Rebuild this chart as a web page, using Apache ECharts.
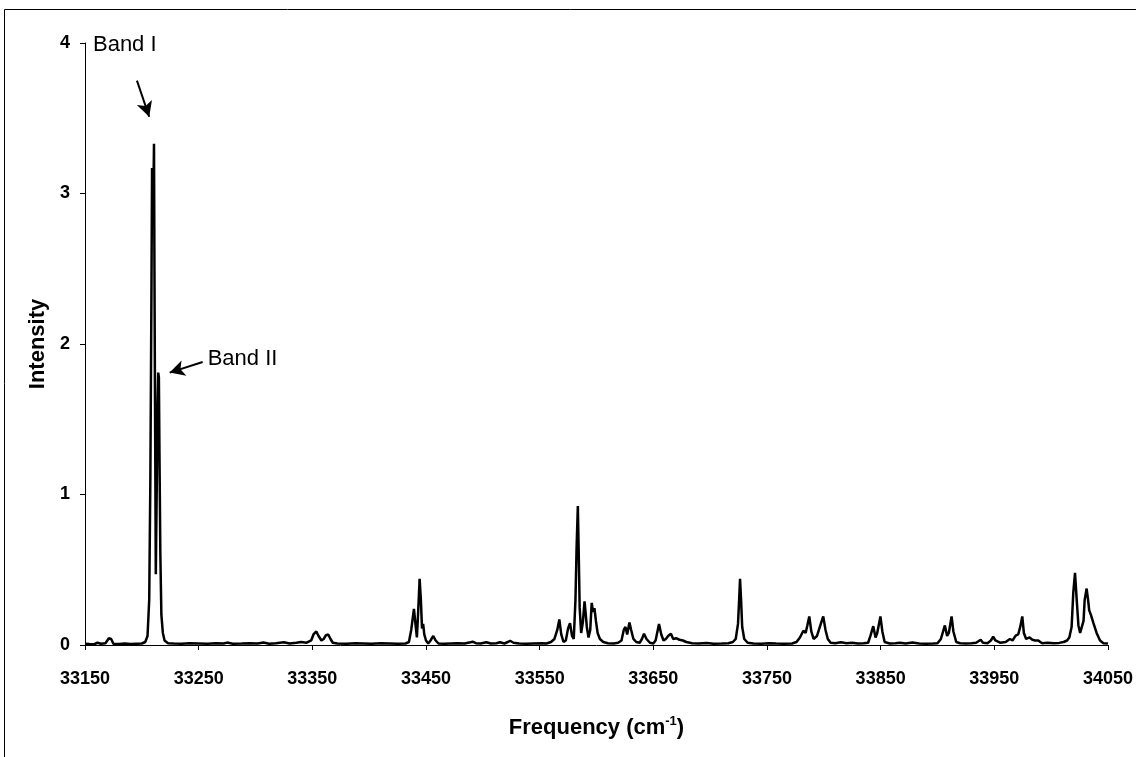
<!DOCTYPE html>
<html>
<head>
<meta charset="utf-8">
<script src="https://cdn.jsdelivr.net/npm/echarts@6/dist/echarts.min.js"></script>
<style>
  html, body { margin: 0; padding: 0; background: #fff; }
  #chart { width: 1136px; height: 757px; }
</style>
</head>
<body>
<div id="chart"></div>
<script>
// spectrum: frequency (cm-1) and intensity
const freq = [
  33150, 33154, 33158, 33161, 33164, 33168, 33171, 33173, 33175, 33180, 33185, 33190, 33195, 33200, 33203,
  33205, 33206.5, 33207.5, 33208.5, 33209, 33209.6, 33210.2, 33210.7, 33211.1, 33211.6, 33212.3, 33213.2,
  33213.8, 33214.4, 33215, 33215.6, 33216.3, 33217.2, 33218.5, 33220, 33223, 33228, 33235, 33242, 33250,
  33258, 33265, 33272, 33275, 33280, 33288, 33295, 33302, 33307, 33312, 33318, 33325, 33330, 33336, 33340,
  33345, 33349, 33351, 33353.5, 33355.5, 33358, 33360, 33362, 33364, 33366, 33368, 33372, 33380, 33388,
  33395, 33402, 33410, 33418, 33425, 33432, 33435, 33437, 33439.4, 33441, 33442, 33443, 33444.4, 33445.5,
  33446.5, 33447.5, 33448.5, 33450, 33452, 33454, 33456.4, 33458.5, 33461, 33466, 33472, 33478, 33484,
  33488, 33491, 33494, 33498, 33503, 33507, 33512, 33515, 33519, 33522, 33524, 33527, 33532, 33538, 33545,
  33552, 33556, 33560, 33563, 33565.5, 33567.3, 33569, 33571, 33573, 33575, 33576.7, 33578.5, 33580,
  33581.5, 33582.5, 33583.6, 33584.4, 33585.2, 33586.5, 33588, 33589.5, 33590.6, 33591.5, 33593, 33594.5,
  33595.8, 33597, 33598.2, 33599.5, 33601, 33603, 33606, 33610, 33615, 33619, 33622, 33624, 33625.5, 33627,
  33629, 33630.5, 33632.5, 33635, 33638, 33640, 33641.8, 33644, 33647, 33650, 33652, 33655, 33657, 33659,
  33661, 33663, 33665.5, 33667.5, 33670, 33673, 33676, 33679, 33684, 33690, 33697, 33703, 33710, 33716,
  33720, 33722.5, 33724.5, 33725.5, 33726.3, 33727.2, 33728.2, 33730, 33733, 33738, 33745, 33752, 33758,
  33765, 33772, 33776, 33779, 33782, 33784, 33785.5, 33787.2, 33789, 33791, 33794, 33796.5, 33799.5,
  33801.5, 33803.5, 33806, 33810, 33815, 33820, 33825, 33830, 33835, 33839, 33841, 33843.5, 33845.5, 33847,
  33849.8, 33851.5, 33853.5, 33858, 33863, 33867, 33872, 33878, 33884, 33890, 33896, 33900, 33903, 33906.5,
  33908.5, 33910, 33912.4, 33914, 33916.5, 33920, 33925, 33930, 33934, 33936, 33938, 33940, 33944, 33947,
  33949, 33951, 33955, 33960, 33963.7, 33966, 33968.8, 33971, 33972.8, 33974.6, 33976, 33978, 33981,
  33983.5, 33986, 33988.7, 33992, 33997, 34002, 34007, 34011, 34014, 34016, 34018, 34019.5, 34021, 34022.5,
  34024, 34025.5, 34027, 34028.5, 34029.5, 34031.2, 34032.5, 34033.5, 34035, 34037, 34040, 34043, 34046,
  34050
];
const intensity = [
  0.008, 0.006, 0.005, 0.015, 0.008, 0.012, 0.045, 0.04, 0.008, 0.006, 0.01, 0.006, 0.008, 0.01, 0.02,
  0.06, 0.3, 1.1, 2.4, 3.17, 2.8, 3.0, 3.33, 2.5, 1.6, 0.47, 1.1,
  1.6, 1.81, 1.78, 1.2, 0.6, 0.2, 0.08, 0.03, 0.012, 0.01, 0.008, 0.012, 0.01,
  0.008, 0.012, 0.01, 0.016, 0.008, 0.01, 0.012, 0.01, 0.016, 0.008, 0.012, 0.018, 0.01, 0.015, 0.02,
  0.015, 0.03, 0.07, 0.09, 0.06, 0.03, 0.04, 0.065, 0.07, 0.04, 0.015, 0.01, 0.008, 0.012,
  0.01, 0.008, 0.012, 0.01, 0.008, 0.01, 0.02, 0.1, 0.24, 0.12, 0.05, 0.2, 0.44, 0.3,
  0.11, 0.14, 0.07, 0.03, 0.01, 0.03, 0.06, 0.03, 0.01, 0.008, 0.01, 0.012, 0.01,
  0.016, 0.022, 0.012, 0.01, 0.018, 0.01, 0.012, 0.018, 0.01, 0.02, 0.028, 0.015, 0.01, 0.008, 0.01,
  0.012, 0.01, 0.02, 0.04, 0.1, 0.17, 0.07, 0.02, 0.03, 0.11, 0.145, 0.06, 0.04,
  0.3, 0.65, 0.924, 0.6, 0.25, 0.08, 0.15, 0.29, 0.2, 0.12, 0.05, 0.1,
  0.28, 0.22, 0.245, 0.16, 0.08, 0.04, 0.02, 0.012, 0.01, 0.015, 0.03, 0.1, 0.12, 0.07,
  0.15, 0.1, 0.04, 0.02, 0.015, 0.04, 0.075, 0.04, 0.015, 0.01, 0.03, 0.14, 0.07, 0.03,
  0.04, 0.06, 0.075, 0.04, 0.045, 0.035, 0.03, 0.02, 0.012, 0.01, 0.014, 0.008, 0.01, 0.012,
  0.02, 0.04, 0.14, 0.3, 0.44, 0.3, 0.12, 0.04, 0.015, 0.01, 0.008, 0.012, 0.01,
  0.008, 0.01, 0.02, 0.05, 0.095, 0.08, 0.13, 0.19, 0.09, 0.04, 0.06, 0.12, 0.19,
  0.1, 0.04, 0.015, 0.012, 0.018, 0.012, 0.015, 0.01, 0.012, 0.015, 0.06, 0.125, 0.05, 0.08,
  0.19, 0.09, 0.02, 0.01, 0.012, 0.015, 0.01, 0.016, 0.01, 0.008, 0.01, 0.012, 0.04, 0.13,
  0.06, 0.08, 0.19, 0.09, 0.02, 0.012, 0.01, 0.012, 0.015, 0.025, 0.035, 0.015, 0.012, 0.03,
  0.055, 0.03, 0.015, 0.02, 0.04, 0.03, 0.062, 0.07, 0.12, 0.19, 0.08, 0.04, 0.05,
  0.035, 0.03, 0.03, 0.012, 0.015, 0.012, 0.014, 0.02, 0.03, 0.05, 0.12, 0.35, 0.48, 0.3,
  0.13, 0.08, 0.07, 0.16, 0.3, 0.375, 0.3, 0.23, 0.2, 0.15, 0.08, 0.03, 0.012,
  0.01
];

// annotations: label anchor and arrow (tail -> tip), in data units
const bandLabels = ['Band I', 'Band II'];
const bandText = [[33185, 3.99], [33257.5, 1.9]];
const bandArrowTail = [[33195.7, 3.75], [33253.5, 1.88]];
const bandArrowTip = [[33206.5, 3.51], [33224.5, 1.81]];

const data = freq.map((f, i) => [f, intensity[i]]);

let myChart = echarts.init(document.getElementById('chart'));

let option = {
    animation: false,
    backgroundColor: '#fff',
    textStyle: { fontFamily: '"Liberation Sans", Arial, sans-serif' },
    grid: { left: 85, right: 28, top: 43, bottom: 112 },
    graphic: [
        {
            // outer frame, only top and left edges fall inside the picture
            type: 'polyline',
            shape: { points: [[4.5, 757], [4.5, 9.5], [1136, 9.5]] },
            style: { stroke: '#000', lineWidth: 1, fill: null }
        }
    ],
    xAxis: {
        type: 'value',
        min: 33150,
        max: 34050,
        interval: 100,
        name: '{a|Frequency (cm}{s|-1}{a|)}',
        nameLocation: 'middle',
        nameGap: 70,
        nameTextStyle: {
            rich: {
                a: { fontSize: 22, fontWeight: 'bold', color: '#000', fontFamily: '"Liberation Sans", Arial' },
                s: { fontSize: 13, fontWeight: 'bold', color: '#000', verticalAlign: 'top', padding: [0, 0, 13, 0], fontFamily: '"Liberation Sans", Arial' }
            }
        },
        axisLine: { lineStyle: { color: '#000', width: 1 } },
        axisTick: { inside: false, length: 5, lineStyle: { color: '#000' } },
        axisLabel: {
            color: '#000', fontSize: 18, fontWeight: 'bold', margin: 25,
            formatter: v => String(v)
        },
        splitLine: { show: false }
    },
    yAxis: {
        type: 'value',
        min: 0,
        max: 4,
        interval: 1,
        name: 'Intensity',
        nameLocation: 'middle',
        nameGap: 33,
        nameRotate: 90,
        nameTextStyle: { color: '#000', fontSize: 22, fontWeight: 'bold' },
        axisLine: { show: true, lineStyle: { color: '#000', width: 1 } },
        axisTick: { show: true, inside: false, length: 5, lineStyle: { color: '#000' } },
        axisLabel: { color: '#000', fontSize: 18, fontWeight: 'bold', margin: 15 },
        splitLine: { show: false }
    },
    series: [
        {
            type: 'line',
            data: data,
            showSymbol: false,
            lineStyle: { color: '#000', width: 2.5 },
            itemStyle: { color: '#000' },
            markLine: {
                silent: true,
                symbol: ['none', 'arrow'],
                symbolSize: [12, 15],
                lineStyle: { color: '#000', width: 2, type: 'solid' },
                label: { show: false },
                data: bandArrowTail.map((t, i) => [{ coord: t }, { coord: bandArrowTip[i] }])
            },
            markPoint: {
                silent: true,
                symbol: 'circle',
                symbolSize: 1,
                itemStyle: { color: 'rgba(0,0,0,0)' },
                data: bandLabels.map((name, i) => ({
                    coord: bandText[i],
                    label: {
                        show: true,
                        formatter: name,
                        position: i === 0 ? 'inside' : 'right',
                        distance: 0,
                        color: '#000',
                        fontSize: 22
                    }
                }))
            }
        }
    ]
};

myChart.setOption(option);
window.onresize = () => {
    myChart.resize()
}
</script>
</body>
</html>
